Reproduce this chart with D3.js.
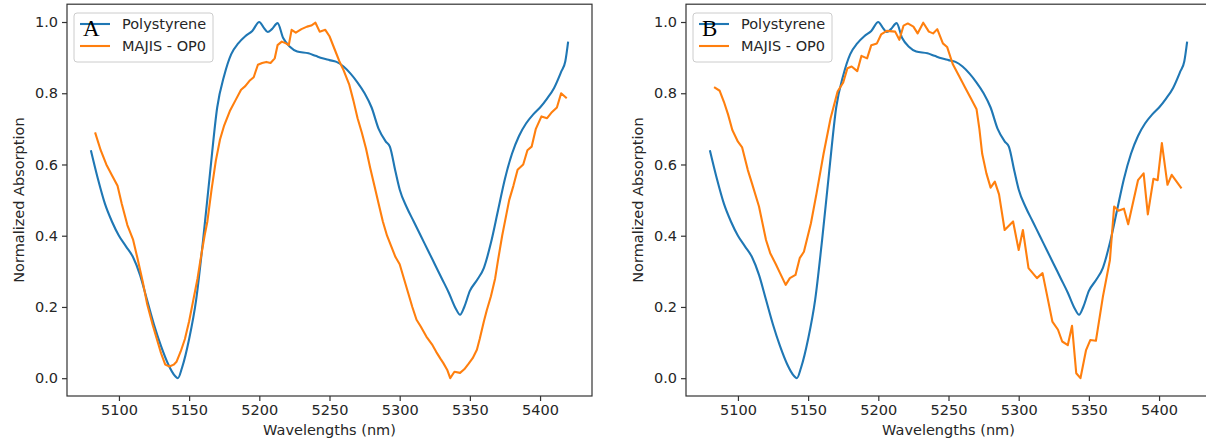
<!DOCTYPE html>
<html><head><meta charset="utf-8">
<script src="https://cdn.jsdelivr.net/npm/d3@7/dist/d3.min.js"></script>
<style>
html,body{margin:0;padding:0;background:#fff;}
svg{display:block;font-family:"DejaVu Sans",sans-serif;}
</style></head>
<body>
<svg id="chart" width="1206" height="445"></svg>
<script>
// ---- data ----
const polyWl = [5080,5085,5090,5095,5100,5105,5110,5115,5120,5125,5130,5135,5140,5142,5145,5150,5155,5160,5165,5170,5175,5180,5185,5190,5195,5200,5203,5206,5209,5213,5217,5222,5227,5235,5240,5245,5250,5255,5260,5265,5270,5275,5280,5285,5290,5293,5297,5300,5305,5310,5315,5320,5325,5330,5335,5340,5343,5346,5350,5355,5360,5365,5370,5375,5380,5385,5390,5395,5400,5405,5410,5415,5418,5420];
const polyVal = [0.64,0.56,0.49,0.44,0.40,0.37,0.34,0.29,0.22,0.15,0.09,0.04,0.006,0.0,0.03,0.11,0.22,0.39,0.58,0.76,0.85,0.91,0.94,0.96,0.975,1.0,0.985,0.972,0.98,0.997,0.955,0.93,0.917,0.912,0.905,0.898,0.893,0.888,0.875,0.855,0.83,0.80,0.76,0.70,0.665,0.65,0.58,0.53,0.48,0.44,0.40,0.36,0.32,0.28,0.24,0.195,0.178,0.20,0.245,0.275,0.31,0.38,0.47,0.56,0.63,0.68,0.715,0.74,0.76,0.785,0.815,0.86,0.89,0.945];

const majisAWl = [5083,5087,5091,5095,5099,5102,5106,5110,5113,5117,5120,5124,5127,5130,5133,5136,5139,5141,5144,5147,5150,5153,5156,5158,5161,5163,5166,5169,5172,5175,5179,5183,5187,5190,5193,5196,5199,5202,5205,5208,5211,5213,5216,5219,5221,5223,5226,5230,5234,5237,5240,5243,5247,5250,5254,5257,5260,5264,5267,5270,5273,5276,5279,5282,5285,5288,5291,5294,5297,5300,5303,5306,5309,5312,5315,5319,5323,5326,5329,5331,5334,5336,5339,5343,5346,5349,5352,5355,5357,5360,5362,5365,5368,5370,5373,5376,5378,5381,5384,5388,5391,5394,5397,5401,5405,5408,5412,5415,5419];
const majisAVal = [0.69,0.64,0.60,0.57,0.54,0.49,0.43,0.39,0.34,0.27,0.21,0.15,0.11,0.07,0.038,0.033,0.038,0.046,0.075,0.11,0.16,0.22,0.28,0.33,0.40,0.44,0.53,0.61,0.67,0.71,0.75,0.78,0.81,0.82,0.835,0.845,0.88,0.885,0.888,0.885,0.898,0.935,0.945,0.94,0.935,0.978,0.97,0.98,0.987,0.99,0.998,0.973,0.978,0.96,0.92,0.89,0.865,0.825,0.78,0.73,0.69,0.645,0.59,0.54,0.49,0.44,0.40,0.37,0.34,0.32,0.28,0.24,0.20,0.164,0.145,0.117,0.095,0.074,0.055,0.043,0.022,0.0,0.018,0.015,0.025,0.04,0.056,0.08,0.11,0.16,0.19,0.23,0.28,0.33,0.40,0.46,0.50,0.54,0.585,0.60,0.64,0.65,0.70,0.735,0.73,0.745,0.76,0.80,0.786];

const majisBWl = [5083,5087,5090,5093,5096,5100,5103,5107,5110,5115,5120,5123,5127,5130,5134,5137,5141,5144,5147,5152,5156,5161,5166,5171,5175,5178,5181,5185,5188,5192,5195,5199,5202,5206,5212,5215,5218,5221,5225,5228,5232,5236,5239,5242,5246,5249,5253,5258,5262,5266,5270,5272,5274,5277,5280,5283,5286,5290,5296,5300,5303,5307,5313,5317,5324,5328,5331,5335,5338,5341,5344,5348,5351,5355,5360,5365,5368,5371,5375,5378,5385,5389,5392,5396,5399,5402,5406,5409,5416];
const majisBVal = [0.817,0.807,0.776,0.74,0.697,0.664,0.648,0.585,0.547,0.482,0.388,0.351,0.32,0.295,0.262,0.281,0.29,0.337,0.355,0.435,0.519,0.63,0.73,0.805,0.83,0.87,0.875,0.862,0.905,0.898,0.935,0.94,0.965,0.975,0.973,0.95,0.99,0.996,0.987,0.968,0.998,0.973,0.968,0.98,0.94,0.93,0.882,0.845,0.815,0.785,0.755,0.70,0.63,0.575,0.535,0.552,0.516,0.416,0.44,0.36,0.416,0.309,0.281,0.295,0.159,0.136,0.103,0.093,0.147,0.014,0.0,0.079,0.107,0.105,0.229,0.332,0.482,0.47,0.476,0.432,0.556,0.575,0.46,0.56,0.556,0.66,0.543,0.571,0.533];

const xTicks = [5100,5150,5200,5250,5300,5350,5400];
const yTicks = [0.0,0.2,0.4,0.6,0.8,1.0];
const seriesNames = ["Polystyrene","MAJIS - OP0"];
const panelLetters = ["A","B"];

// ---- drawing ----
const svg = d3.select("#chart");
const colors = ["#1f77b4","#ff7f0e"];
const axisColor = "#333333";
const fontSize = 14.5;

const panels = [
  {left:67, right:592, letter:panelLetters[0], majisWl:majisAWl, majisVal:majisAVal, ylabX:19},
  {left:686, right:1211, letter:panelLetters[1], majisWl:majisBWl, majisVal:majisBVal, ylabX:638}
];
const plotTop = 4.2, plotBottom = 396;

panels.forEach(p => {
  const x = d3.scaleLinear().domain([5063, 5437]).range([p.left, p.right]);
  const y = d3.scaleLinear().domain([-0.05, 1.05]).range([plotBottom, plotTop]);
  const g = svg.append("g");

  const polyData = polyWl.map((w,i)=>[w, polyVal[i]]);
  const majData = p.majisWl.map((w,i)=>[w, p.majisVal[i]]);

  const lineSmooth = d3.line().x(d=>x(d[0])).y(d=>y(d[1])).curve(d3.curveMonotoneX);
  const lineLin = d3.line().x(d=>x(d[0])).y(d=>y(d[1]));

  g.append("path").attr("d", lineSmooth(polyData)).attr("fill","none")
    .attr("stroke", colors[0]).attr("stroke-width", 2.1).attr("stroke-linejoin","round");
  g.append("path").attr("d", lineLin(majData)).attr("fill","none")
    .attr("stroke", colors[1]).attr("stroke-width", 2.1).attr("stroke-linejoin","round");

  // axes
  const xAxis = d3.axisBottom(x).tickValues(xTicks).tickSize(5).tickPadding(4).tickFormat(d3.format("d"));
  const yAxis = d3.axisLeft(y).tickValues(yTicks).tickSize(5).tickPadding(4).tickFormat(d3.format(".1f"));
  const gx = g.append("g").attr("transform",`translate(0,${plotBottom})`).call(xAxis);
  const gy = g.append("g").attr("transform",`translate(${p.left},0)`).call(yAxis);
  [gx, gy].forEach(ax => {
    ax.select(".domain").remove();
    ax.selectAll("line").attr("stroke", axisColor).attr("stroke-width", 1.2);
    ax.selectAll("text").attr("fill", "#262626").attr("font-size", fontSize)
      .attr("font-family", "DejaVu Sans");
  });
  // frame
  g.append("rect").attr("x", p.left).attr("y", plotTop).attr("width", p.right - p.left)
    .attr("height", plotBottom - plotTop).attr("fill","none").attr("stroke", axisColor).attr("stroke-width", 1.2);

  // labels
  g.append("text").attr("x", (p.left + p.right)/2).attr("y", 435).attr("text-anchor","middle")
    .attr("font-size", fontSize).attr("fill","#262626").text("Wavelengths (nm)");
  g.append("text").attr("transform", `translate(${p.ylabX + 5},${(plotTop+plotBottom)/2}) rotate(-90)`)
    .attr("text-anchor","middle").attr("font-size", fontSize).attr("fill","#262626")
    .text("Normalized Absorption");

  // legend
  const lx = p.left + 7, ly = 13;
  g.append("rect").attr("x", lx).attr("y", ly).attr("width", 139).attr("height", 49)
    .attr("rx", 3).attr("fill","white").attr("fill-opacity",0.8)
    .attr("stroke","#cccccc").attr("stroke-width",1);
  seriesNames.forEach((name, i) => {
    const yy = 24 + i*22;
    g.append("line").attr("x1", lx+6).attr("x2", lx+36).attr("y1", yy).attr("y2", yy)
      .attr("stroke", colors[i]).attr("stroke-width", 2.1);
    g.append("text").attr("x", lx+48).attr("y", yy+5).attr("font-size", fontSize)
      .attr("fill","#262626").text(name);
  });
  g.append("text").attr("x", lx+9).attr("y", 36).attr("font-family","Liberation Serif, serif")
    .attr("font-size", 23).attr("fill","#000").text(p.letter);
});
</script>
</body></html>
